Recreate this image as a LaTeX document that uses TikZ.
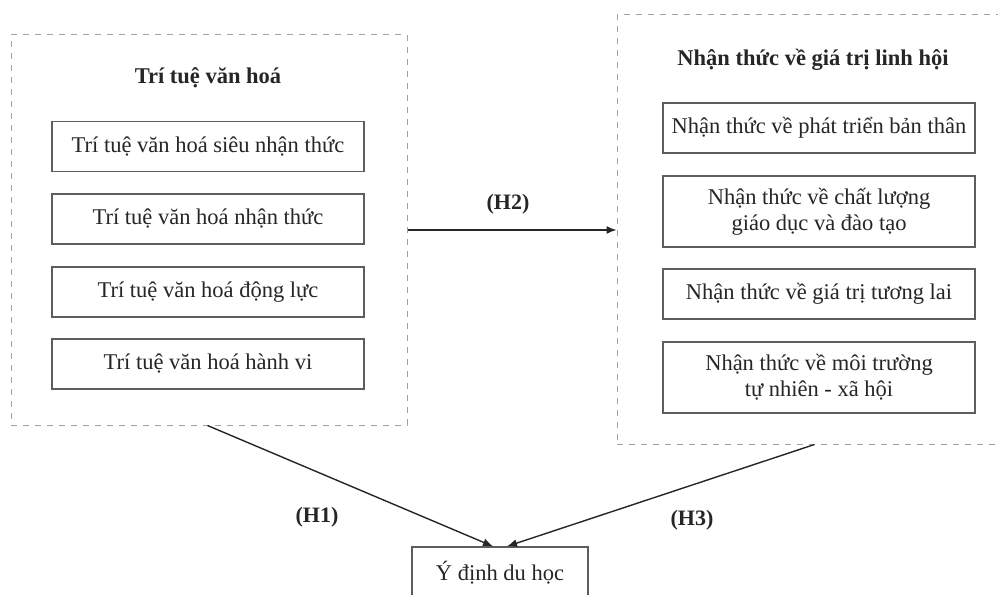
\documentclass[tikz,border=0pt]{standalone}
\usepackage{fontspec}
\setmainfont{Liberation Serif}
\usetikzlibrary{arrows.meta}
\definecolor{boxline}{HTML}{5E5E5E}
\definecolor{dashline}{HTML}{A2A2A2}
\definecolor{ink}{HTML}{262626}
\tikzset{
  item/.style={draw=boxline, line width=1.3pt, minimum width=312pt, minimum height=50pt,
    align=center, inner sep=0pt, text=ink, font=\fontsize{22.5}{26}\selectfont},
  group/.style={draw=dashline, line width=1pt, dash pattern=on 6pt off 6pt, inner sep=0pt},
  heading/.style={text=ink, font=\fontsize{22.5}{26}\selectfont\bfseries},
  hlabel/.style={text=ink, font=\fontsize{22}{26}\selectfont\bfseries},
  link/.style={draw=ink, line width=1.4pt, -{Latex[length=10pt,width=8pt]}}
}
\begin{document}
\begin{tikzpicture}[x=1pt,y=-1pt]
\useasboundingbox (0,0) rectangle (998,594);
\fill[white] (0,0) rectangle (998,594);

% left group: cultural intelligence
\node[group, minimum width=396pt, minimum height=390pt] (lout) at (209,230) {};
\node[heading] (ltitle) at (208,78) {Trí tuệ văn hoá};
\node[item] (l1) at (208,146.5) {Trí tuệ văn hoá siêu nhận thức};
\node[item] (l2) at (208,219) {Trí tuệ văn hoá nhận thức};
\node[item] (l3) at (208,292) {Trí tuệ văn hoá động lực};
\node[item] (l4) at (208,364) {Trí tuệ văn hoá hành vi};

% right group: perceived value (its right side runs past the page edge)
\node[group, minimum width=404pt, minimum height=429pt] (rout) at (819,229.5) {};
\node[heading] (rtitle) at (813,60) {Nhận thức về giá trị linh hội};
\node[item] (r1) at (819,128) {Nhận thức về phát triển bản thân};
\node[item, minimum height=71pt] (r2) at (819,211.5) {Nhận thức về chất lượng\\giáo dục và đào tạo};
\node[item] (r3) at (819,294) {Nhận thức về giá trị tương lai};
\node[item, minimum height=71pt] (r4) at (819,377.5) {Nhận thức về môi trường\\tự nhiên - xã hội};

% outcome
\node[item, minimum width=176pt, minimum height=52pt] (goal) at (500,573) {Ý định du học};

% hypotheses
\draw[link] (lout.east) -- (rout.west |- lout.east);
\draw[link] ([xshift=197pt]lout.south west) -- ([xshift=-7pt]goal.north);
\draw[link] ([xshift=198pt]rout.south west) -- ([xshift=7pt]goal.north);

\node[hlabel] (h2) at (508,204) {(H2)};
\node[hlabel] (h1) at (317,517) {(H1)};
\node[hlabel] (h3) at (692,520) {(H3)};
\end{tikzpicture}
\end{document}
